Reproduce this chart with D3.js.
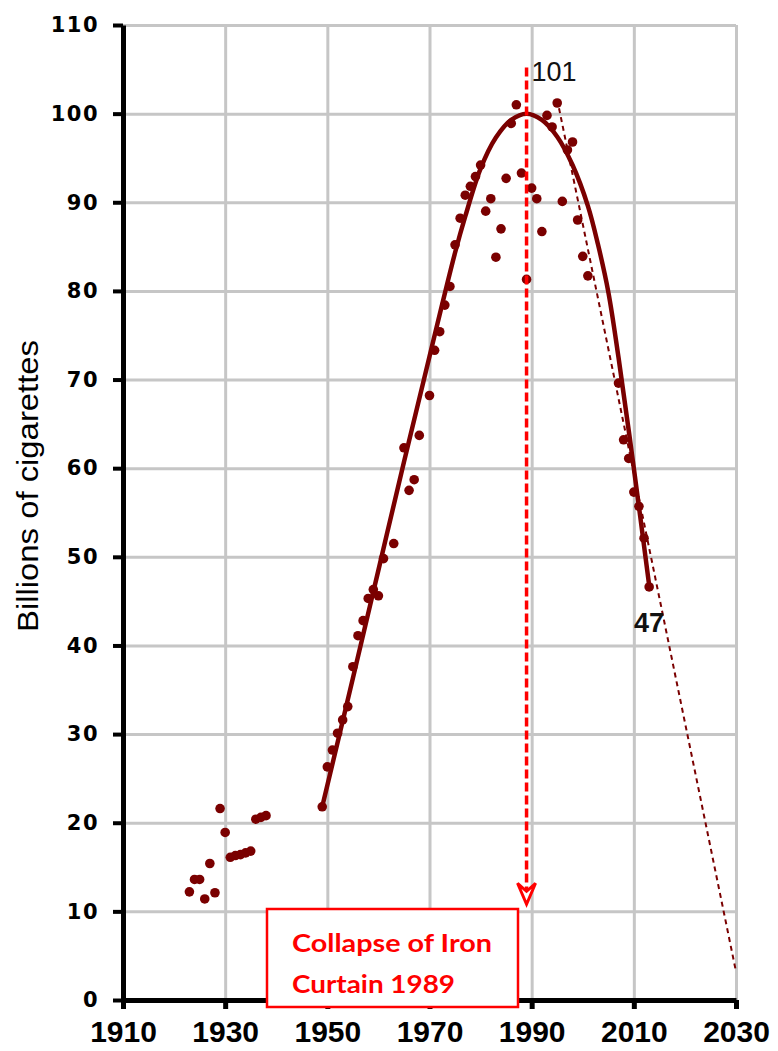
<!DOCTYPE html>
<html>
<head>
<meta charset="utf-8">
<script src="https://cdn.jsdelivr.net/npm/d3@7/dist/d3.min.js"></script>
<style>
  html, body { margin: 0; padding: 0; background: #ffffff; }
  svg { display: block; }
</style>
</head>
<body>
<div id="chart"></div>
<script>
// ---------------- data ----------------
const pointYears = [1923,1924,1925,1926,1927,1928,1929,1930,1931,1932,1933,1934,1935,1936,1937,1938,
  1949,1950,1951,1952,1953,1954,1955,1956,1957,1958,1959,1960,1961,1963,1965,1966,1967,1968,1970,
  1971,1972,1973,1974,1975,1976,1977,1978,1979,1980,1981,1982,1983,1984,1985,1986,1987,1988,1989,
  1990,1991,1992,1993,1994,1995,1996,1997,1998,1999,2000,2001,2007,2008,2009,2010,2011,2012,2013];
const pointValues = [12.2,13.6,13.6,11.4,15.4,12.1,21.6,18.9,16.1,16.3,16.4,16.6,16.8,20.4,20.6,20.8,
  21.8,26.3,28.2,30.1,31.6,33.1,37.6,41.1,42.8,45.3,46.3,45.6,49.8,51.5,62.3,57.5,58.7,63.7,68.2,
  73.3,75.4,78.4,80.5,85.2,88.2,90.8,91.8,92.9,94.2,89.0,90.4,83.8,87.0,92.7,98.9,101.0,93.3,81.3,
  91.6,90.4,86.7,99.8,98.5,101.2,90.1,95.9,96.8,88.0,83.9,81.7,69.6,63.2,61.1,57.3,55.7,52.1,46.6];

// fitted curve
const fitYears  = [1949,1955,1960,1965,1970,1975,1977,1980,1983,1986,1989,1992,1995,1998,2001,2003,2005,2007,2010,2013];
const fitValues = [21.8,36.3,48.5,60.7,72.6,84.3,88.4,93.8,97.3,99.3,100.0,99.3,97.4,94.2,89.6,85.2,79.9,72.5,60.0,46.8];

// dashed trend line
const trendYears  = [1995, 2030];
const trendValues = [101.6, 3.2];

// event marker
const eventYear = 1989;
const eventRange = [105.2, 10.8];

const xTicks = [1910,1930,1950,1970,1990,2010,2030];
const yTicks = [0,10,20,30,40,50,60,70,80,90,100,110];
const labelPeak = "101";
const labelLast = "47";
const yTitle = "Billions of cigarettes";
const boxLines = ["Collapse of Iron", "Curtain 1989"];

// ---------------- drawing ----------------
const W = 778, H = 1051;
const svg = d3.select("#chart").append("svg").attr("width", W).attr("height", H);
svg.append("rect").attr("width", W).attr("height", H).attr("fill", "#fff");

const x = d3.scaleLinear().domain([1910, 2030]).range([123, 736]);
const y = d3.scaleLinear().domain([0, 110]).range([1000, 25]);

const dark = "#7a0000";
const grid = "#c6c6c6";

// gridlines
const gx = svg.append("g").attr("transform", `translate(0,${y(0)})`)
  .call(d3.axisBottom(x).tickValues(xTicks.filter(d => d !== 1910)).tickSize(-(y(0) - y(110))).tickFormat(""));
gx.select(".domain").remove();
gx.selectAll("line").attr("stroke", grid).attr("stroke-width", 3);

const gy = svg.append("g").attr("transform", `translate(${x(1910)},0)`)
  .call(d3.axisLeft(y).tickValues(yTicks.filter(d => d !== 0)).tickSize(-(x(2030) - x(1910))).tickFormat(""));
gy.select(".domain").remove();
gy.selectAll("line").attr("stroke", grid).attr("stroke-width", 3);

// trend dashed line
svg.append("path")
  .datum(trendYears.map((d, i) => [d, trendValues[i]]))
  .attr("d", d3.line().x(d => x(d[0])).y(d => y(d[1])))
  .attr("fill", "none").attr("stroke", dark).attr("stroke-width", 2)
  .attr("stroke-dasharray", "5,4");

// points
svg.append("g").selectAll("circle")
  .data(pointYears.map((d, i) => [d, pointValues[i]]))
  .join("circle")
  .attr("cx", d => x(d[0])).attr("cy", d => y(d[1])).attr("r", 4.8)
  .attr("fill", dark);

// fitted curve
svg.append("path")
  .datum(fitYears.map((d, i) => [d, fitValues[i]]))
  .attr("d", d3.line().x(d => x(d[0])).y(d => y(d[1])).curve(d3.curveCatmullRom.alpha(0.5)))
  .attr("fill", "none").attr("stroke", dark).attr("stroke-width", 4.5)
  .attr("stroke-linecap", "round");

// red event line + arrow
const ex = x(eventYear);
svg.append("line")
  .attr("x1", ex).attr("x2", ex)
  .attr("y1", y(eventRange[0])).attr("y2", y(eventRange[1]) - 14)
  .attr("stroke", "#ff0000").attr("stroke-width", 3.5).attr("stroke-dasharray", "9,4");
const tipY = y(eventRange[1]);
svg.append("path")
  .attr("d", `M${ex - 9},${tipY - 21} L${ex},${tipY} L${ex + 9},${tipY - 21} L${ex},${tipY - 13} Z`)
  .attr("fill", "#fff").attr("stroke", "#ff0000").attr("stroke-width", 3).attr("stroke-linejoin", "miter");

// axes
const axX = svg.append("g").attr("transform", `translate(0,${y(0)})`)
  .call(d3.axisBottom(x).tickValues(xTicks).tickSize(9).tickSizeOuter(0).tickPadding(12).tickFormat(d3.format("d")));
axX.select(".domain").attr("stroke", "#000").attr("stroke-width", 5);
axX.selectAll(".tick line").attr("stroke", "#000").attr("stroke-width", 5);
axX.selectAll(".tick text")
  .attr("font-family", "'Liberation Sans', Arial, sans-serif")
  .attr("font-weight", "bold").attr("font-size", 30).attr("fill", "#000");

const axY = svg.append("g").attr("transform", `translate(${x(1910)},0)`)
  .call(d3.axisLeft(y).tickValues(yTicks).tickSize(10).tickSizeOuter(0).tickPadding(14));
axY.select(".domain").attr("stroke", "#000").attr("stroke-width", 5);
axY.selectAll(".tick line").attr("stroke", "#000").attr("stroke-width", 4);
axY.selectAll(".tick text")
  .attr("font-family", "'DejaVu Sans', Verdana, sans-serif")
  .attr("font-weight", "bold").attr("font-size", 21).attr("letter-spacing", 1.5).attr("fill", "#000");

// y title
svg.append("text")
  .attr("transform", `translate(38,486) rotate(-90)`)
  .attr("text-anchor", "middle")
  .attr("font-family", "'Liberation Sans', Arial, sans-serif")
  .attr("font-size", 29).attr("fill", "#000")
  .attr("textLength", 292).attr("lengthAdjust", "spacingAndGlyphs")
  .text(yTitle);

// labels
svg.append("text").attr("x", ex + 5).attr("y", 81)
  .attr("font-family", "'Liberation Sans', Arial, sans-serif").attr("font-size", 27).attr("fill", "#111")
  .text(labelPeak);
svg.append("text").attr("x", 634).attr("y", 632)
  .attr("font-family", "'Liberation Sans', Arial, sans-serif").attr("font-size", 27).attr("font-weight", "bold").attr("fill", "#111")
  .text(labelLast);

// annotation box
const box = svg.append("g");
box.append("rect").attr("x", 267).attr("y", 909).attr("width", 251).attr("height", 98)
  .attr("fill", "#fff").attr("stroke", "#ff0000").attr("stroke-width", 2.5);
const boxWidths = [200, 163];
box.selectAll("text").data(boxLines).join("text")
  .attr("x", 292).attr("y", (d, i) => 952 + i * 41)
  .attr("font-family", "Lato, 'Open Sans', sans-serif").attr("font-weight", "bold")
  .attr("font-size", 25).attr("fill", "#ff0000")
  .attr("textLength", (d, i) => boxWidths[i]).attr("lengthAdjust", "spacingAndGlyphs")
  .text(d => d);
</script>
</body>
</html>
